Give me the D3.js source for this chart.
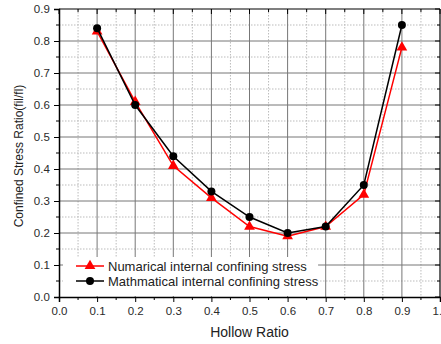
<!DOCTYPE html>
<html>
<head>
<meta charset="utf-8">
<script src="https://cdn.jsdelivr.net/npm/d3@7"></script>
<style>
  body { margin: 0; background: #fff; }
  svg text { font-family: "Liberation Sans", Arial, sans-serif; fill: #222; }
</style>
</head>
<body>
<div id="chart"></div>
<script>
var hollowRatio = [0.1, 0.2, 0.3, 0.4, 0.5, 0.6, 0.7, 0.8, 0.9];
var numerical = [0.83, 0.61, 0.41, 0.31, 0.22, 0.19, 0.22, 0.32, 0.78];
var mathematical = [0.84, 0.60, 0.44, 0.33, 0.25, 0.20, 0.22, 0.35, 0.85];
var xTicks = [0, 0.1, 0.2, 0.3, 0.4, 0.5, 0.6, 0.7, 0.8, 0.9, 1.0];
var yTicks = [0, 0.1, 0.2, 0.3, 0.4, 0.5, 0.6, 0.7, 0.8, 0.9];
var seriesNames = ['Numarical internal confining stress', 'Mathmatical internal confining stress'];

var W = 441, H = 344;
var margin = { top: 9, right: 1, bottom: 47, left: 59 };
var width = W - margin.left - margin.right,
    height = H - margin.top - margin.bottom;

var svg = d3.select('#chart').append('svg')
  .attr('width', W)
  .attr('height', H);

var x = d3.scaleLinear().domain([0, 1]).range([0, width]);
var y = d3.scaleLinear().domain([0, 0.9]).range([height, 0]);

var g = svg.append('g')
  .attr('transform', 'translate(' + margin.left + ',' + margin.top + ')');

// minor grid (dotted)
var minorX = d3.range(0.05, 1, 0.1);
var minorY = d3.range(0.05, 0.9, 0.1);
g.append('g').selectAll('line').data(minorX).enter().append('line')
  .attr('x1', d => x(d)).attr('x2', d => x(d))
  .attr('y1', 0).attr('y2', height)
  .attr('stroke', '#bbb').attr('stroke-dasharray', '1.5,1.5');
g.append('g').selectAll('line').data(minorY).enter().append('line')
  .attr('y1', d => y(d)).attr('y2', d => y(d))
  .attr('x1', 0).attr('x2', width)
  .attr('stroke', '#bbb').attr('stroke-dasharray', '1.5,1.5');

// major grid
g.append('g').selectAll('line').data(xTicks.slice(1, -1)).enter().append('line')
  .attr('x1', d => x(d)).attr('x2', d => x(d))
  .attr('y1', 0).attr('y2', height)
  .attr('stroke', '#777').attr('stroke-width', 1);
g.append('g').selectAll('line').data(yTicks.slice(1, -1)).enter().append('line')
  .attr('y1', d => y(d)).attr('y2', d => y(d))
  .attr('x1', 0).attr('x2', width)
  .attr('stroke', '#777').attr('stroke-width', 1);

// legend background (covers grid)
var legend = g.append('g').attr('transform', 'translate(4,' + (y(0.125)) + ')');
legend.append('rect')
  .attr('x', 0).attr('y', 0)
  .attr('width', x(0.68) - 4).attr('height', height - y(0.125) - 1)
  .attr('fill', '#fff');

// axes
var xAxis = d3.axisBottom(x).tickValues(xTicks).tickSize(5).tickFormat(d3.format('.1f'));
var yAxis = d3.axisLeft(y).tickValues(yTicks).tickSize(5).tickFormat(d3.format('.1f'));

var gx = g.append('g').attr('transform', 'translate(0,' + height + ')').call(xAxis);
var gy = g.append('g').call(yAxis);
[gx, gy].forEach(function(a) {
  a.select('.domain').attr('stroke', '#000').attr('stroke-width', 1.5);
  a.selectAll('.tick line').attr('stroke', '#000');
  a.selectAll('.tick text').attr('font-size', 11.5).style('fill', '#2a2a2a')
    .attr('font-family', '"Liberation Sans", Arial, sans-serif');
});
gx.selectAll('.tick text').attr('dy', '0.9em');
gy.selectAll('.tick text').attr('dx', '-0.1em');

// minor ticks on bottom/left
g.append('g').selectAll('line').data(minorX).enter().append('line')
  .attr('x1', d => x(d)).attr('x2', d => x(d))
  .attr('y1', height).attr('y2', height + 3).attr('stroke', '#000');
g.append('g').selectAll('line').data(minorY).enter().append('line')
  .attr('y1', d => y(d)).attr('y2', d => y(d))
  .attr('x1', 0).attr('x2', -3).attr('stroke', '#000');

// top and right borders with inward ticks
g.append('line').attr('x1', 0).attr('x2', width).attr('y1', 0).attr('y2', 0)
  .attr('stroke', '#000').attr('stroke-width', 1.2);
g.append('line').attr('x1', width).attr('x2', width).attr('y1', 0).attr('y2', height)
  .attr('stroke', '#000').attr('stroke-width', 1.2);
g.append('g').selectAll('line').data(xTicks.concat(minorX)).enter().append('line')
  .attr('x1', d => x(d)).attr('x2', d => x(d))
  .attr('y1', 0).attr('y2', d => (Math.round(d * 100) % 10 === 0 ? 5 : 3)).attr('stroke', '#000');
g.append('g').selectAll('line').data(yTicks.concat(minorY)).enter().append('line')
  .attr('y1', d => y(d)).attr('y2', d => y(d))
  .attr('x1', width).attr('x2', d => width - (Math.round(d * 100) % 10 === 0 ? 5 : 3)).attr('stroke', '#000');

// series
var line = d3.line().x(d => x(d[0])).y(d => y(d[1]));
var numData = hollowRatio.map((h, i) => [h, numerical[i]]);
var mathData = hollowRatio.map((h, i) => [h, mathematical[i]]);
var tri = d3.symbol().type(d3.symbolTriangle).size(50);

g.append('path').datum(numData)
  .attr('fill', 'none').attr('stroke', '#ff0000').attr('stroke-width', 1.5)
  .attr('d', line);
g.selectAll('.tri').data(numData).enter().append('path')
  .attr('class', 'tri')
  .attr('transform', d => 'translate(' + x(d[0]) + ',' + y(d[1]) + ')')
  .attr('d', tri).attr('fill', '#ff0000');

g.append('path').datum(mathData)
  .attr('fill', 'none').attr('stroke', '#000').attr('stroke-width', 1.5)
  .attr('d', line);
g.selectAll('.dot').data(mathData).enter().append('circle')
  .attr('class', 'dot')
  .attr('cx', d => x(d[0])).attr('cy', d => y(d[1]))
  .attr('r', 4).attr('fill', '#000');

// legend entries
var legColors = ['#ff0000', '#000'];
seriesNames.forEach(function(name, i) {
  var ly = 9 + i * 15;
  var row = legend.append('g').attr('transform', 'translate(0,' + ly + ')');
  row.append('line').attr('x1', 13).attr('x2', 41).attr('y1', 0).attr('y2', 0)
    .attr('stroke', legColors[i]).attr('stroke-width', 1.5);
  if (i === 0) {
    row.append('path').attr('transform', 'translate(27,0)').attr('d', tri).attr('fill', legColors[i]);
  } else {
    row.append('circle').attr('cx', 27).attr('cy', 0).attr('r', 4).attr('fill', legColors[i]);
  }
  row.append('text').attr('x', 45).attr('y', 0).attr('dy', '0.35em')
    .attr('font-size', 13).text(name);
});

// axis titles
svg.append('text')
  .attr('x', margin.left + x(0.5)).attr('y', 337)
  .attr('text-anchor', 'middle').attr('font-size', 14)
  .text('Hollow Ratio');
svg.append('text')
  .attr('transform', 'translate(23,156) rotate(-90)')
  .attr('text-anchor', 'middle').attr('font-size', 12)
  .text('Confined Stress Ratio(fil/fl)');
</script>
</body>
</html>
